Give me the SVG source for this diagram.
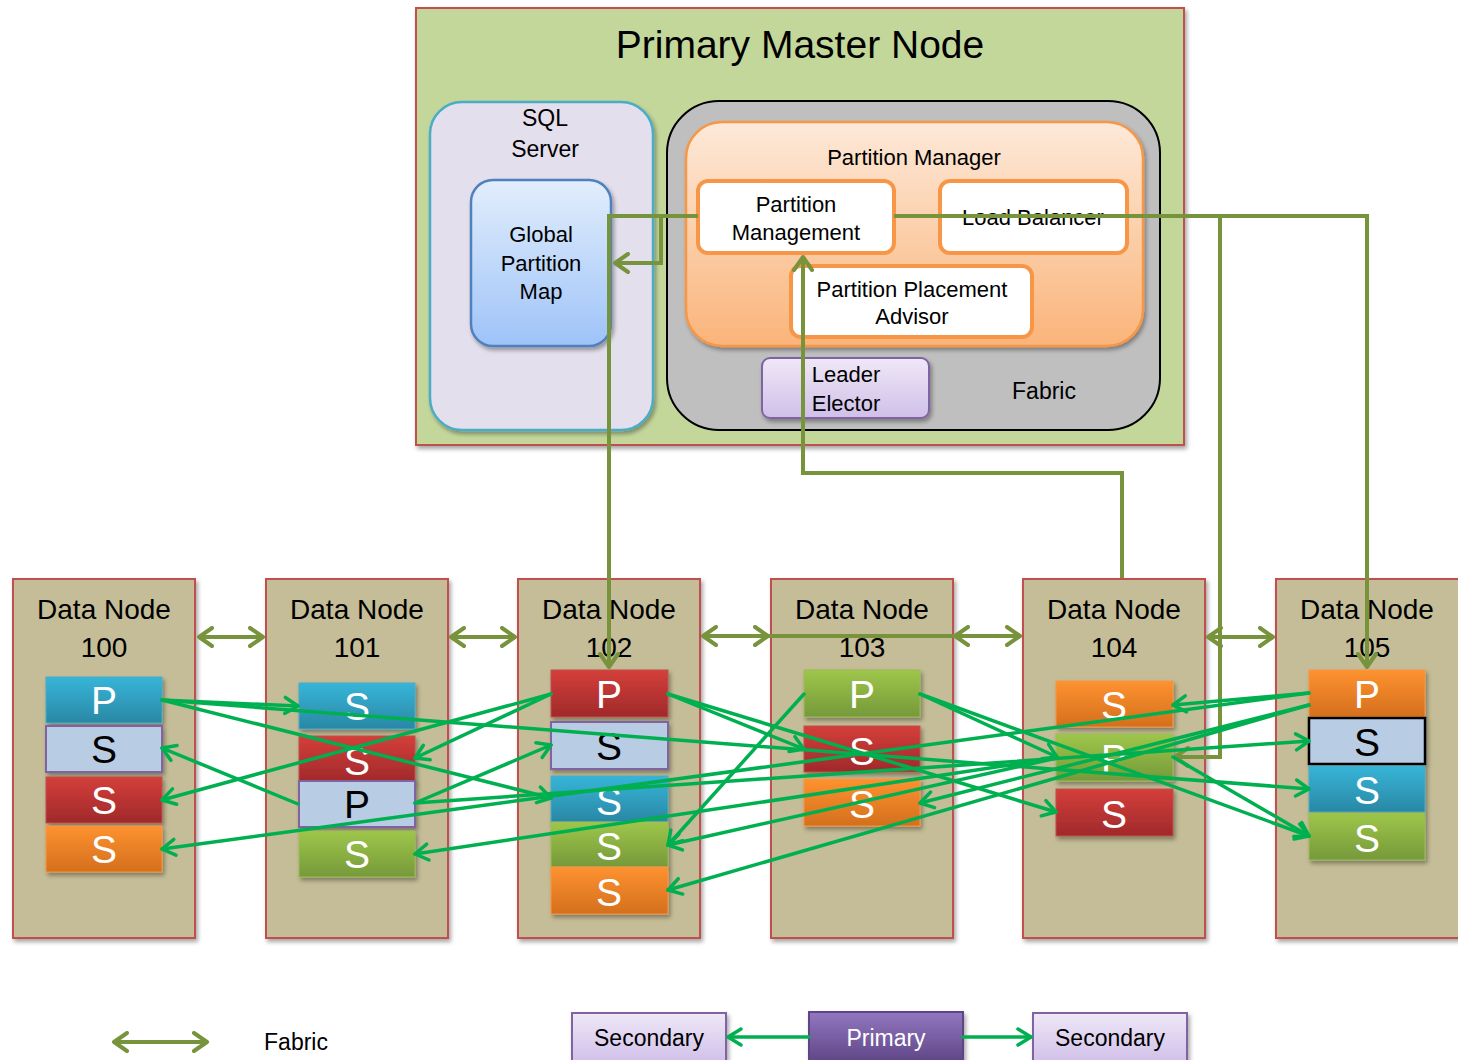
<svg xmlns="http://www.w3.org/2000/svg" width="1458" height="1060" viewBox="0 0 1458 1060">
<style>
text{font-family:"Liberation Sans",Arial,sans-serif;fill:#000;text-anchor:middle}
.dn{fill:#c4bd97;stroke:#c0504d;stroke-width:2}
.dt{font-size:28px}
.bl{font-size:39px;fill:#fff}
.bk{font-size:39px;fill:#000}
.g{fill:none;stroke:#00b050;stroke-width:3.5;stroke-linecap:round;marker-end:url(#ga)}
.o{fill:none;stroke:#77933c;stroke-width:4;marker-end:url(#oa)}
.od{fill:none;stroke:#77933c;stroke-width:4;marker-start:url(#oa);marker-end:url(#oa)}
.pm{fill:#fff;stroke:#f79646;stroke-width:4}
.t22{font-size:22px}
</style>
<defs>
<filter id="sh" x="-10%" y="-10%" width="130%" height="130%"><feDropShadow dx="2" dy="3" stdDeviation="2" flood-color="#000" flood-opacity="0.35"/></filter>
<linearGradient id="gBlue" x1="0" y1="0" x2="0" y2="1"><stop offset="0" stop-color="#37b5d8"/><stop offset="1" stop-color="#2a87a5"/></linearGradient>
<linearGradient id="gRed" x1="0" y1="0" x2="0" y2="1"><stop offset="0" stop-color="#d43f3a"/><stop offset="1" stop-color="#a0292b"/></linearGradient>
<linearGradient id="gOrg" x1="0" y1="0" x2="0" y2="1"><stop offset="0" stop-color="#fd9230"/><stop offset="1" stop-color="#d46f1d"/></linearGradient>
<linearGradient id="gGrn" x1="0" y1="0" x2="0" y2="1"><stop offset="0" stop-color="#9ec64a"/><stop offset="1" stop-color="#76993a"/></linearGradient>
<linearGradient id="gGpm" x1="0" y1="0" x2="0" y2="1"><stop offset="0" stop-color="#e2eefc"/><stop offset="1" stop-color="#9ec3f8"/></linearGradient>
<linearGradient id="gPm" x1="0" y1="0" x2="0" y2="1"><stop offset="0" stop-color="#fde9d9"/><stop offset="1" stop-color="#fab47a"/></linearGradient>
<linearGradient id="gLav" x1="0" y1="0" x2="0" y2="1"><stop offset="0" stop-color="#efe8f7"/><stop offset="1" stop-color="#d0bfe9"/></linearGradient>
<linearGradient id="gPur" x1="0" y1="0" x2="0" y2="1"><stop offset="0" stop-color="#9277c0"/><stop offset="1" stop-color="#5e4585"/></linearGradient>
<marker id="ga" viewBox="-16 -11 19 22" refX="0" refY="0" markerWidth="19" markerHeight="22" markerUnits="userSpaceOnUse" orient="auto-start-reverse"><path d="M-13,-8 L0,0 L-13,8" fill="none" stroke="#00b050" stroke-width="3.5" stroke-linecap="round" stroke-linejoin="round"/></marker>
<marker id="oa" viewBox="-16 -11 19 22" refX="0" refY="0" markerWidth="19" markerHeight="22" markerUnits="userSpaceOnUse" orient="auto-start-reverse"><path d="M-13,-9 L0,0 L-13,9" fill="none" stroke="#77933c" stroke-width="4" stroke-linecap="round" stroke-linejoin="round"/></marker>
</defs>

<g id="master">
<rect x="416" y="8" width="768" height="437" fill="#c4d79b" stroke="#c0504d" stroke-width="2" filter="url(#sh)"/>
<text x="800" y="58" style="font-size:39px">Primary Master Node</text>
</g>
<g id="sqlserver">
<rect x="430" y="102" width="223" height="328" rx="32" fill="#e4dfec" stroke="#4bacc6" stroke-width="2.5" filter="url(#sh)"/>
<text x="545" y="126" style="font-size:23px">SQL</text>
<text x="545" y="157" style="font-size:23px">Server</text>
</g>
<g id="gpm">
<rect x="471" y="180" width="140" height="166" rx="22" fill="url(#gGpm)" stroke="#4f81bd" stroke-width="2.5" filter="url(#sh)"/>
<text x="541" y="242" class="t22">Global</text>
<text x="541" y="271" class="t22">Partition</text>
<text x="541" y="299" class="t22">Map</text>
</g>
<g id="fabric">
<rect x="667" y="101" width="493" height="329" rx="52" fill="#bfbfbf" stroke="#000" stroke-width="2"/>
<text x="1044" y="399" style="font-size:23px">Fabric</text>
</g>
<g id="partition-manager">
<rect x="686" y="122" width="457" height="224" rx="36" fill="url(#gPm)" stroke="#f79646" stroke-width="2.5" filter="url(#sh)"/>
<text x="914" y="165" style="font-size:22px">Partition Manager</text>
</g>
<g id="partition-management">
<rect x="698" y="181" width="196" height="72" rx="10" class="pm"/>
<text x="796" y="212" class="t22">Partition</text>
<text x="796" y="240" class="t22">Management</text>
</g>
<g id="load-balancer">
<rect x="940" y="181" width="187" height="72" rx="10" class="pm"/>
<text x="1033" y="225" class="t22">Load Balancer</text>
</g>
<g id="placement-advisor">
<rect x="791" y="266" width="241" height="71" rx="10" class="pm"/>
<text x="912" y="297" class="t22">Partition Placement</text>
<text x="912" y="324" class="t22">Advisor</text>
</g>
<g id="leader-elector">
<rect x="762" y="358" width="167" height="60" rx="8" fill="url(#gLav)" stroke="#8064a2" stroke-width="2" filter="url(#sh)"/>
<text x="846" y="382" class="t22">Leader</text>
<text x="846" y="411" class="t22">Elector</text>
</g>

<g id="dn100">
<rect x="13" y="579" width="182" height="359" class="dn" filter="url(#sh)"/>
<text x="104" y="619" class="dt">Data Node</text><text x="104" y="657" class="dt">100</text>
<rect x="46" y="677" width="116" height="46" fill="url(#gBlue)" stroke="#4bacc6" filter="url(#sh)"/><text x="104" y="714" class="bl">P</text>
<rect x="46" y="726" width="116" height="46" fill="#b8cce4" stroke="#8064a2" stroke-width="2" filter="url(#sh)"/><text x="104" y="763" class="bk">S</text>
<rect x="46" y="777" width="116" height="46" fill="url(#gRed)" stroke="#c0504d" filter="url(#sh)"/><text x="104" y="814" class="bl">S</text>
<rect x="46" y="826" width="116" height="46" fill="url(#gOrg)" stroke="#f79646" filter="url(#sh)"/><text x="104" y="863" class="bl">S</text>
</g>
<g id="dn101">
<rect x="266" y="579" width="182" height="359" class="dn" filter="url(#sh)"/>
<text x="357" y="619" class="dt">Data Node</text><text x="357" y="657" class="dt">101</text>
<rect x="299" y="683" width="116" height="46" fill="url(#gBlue)" stroke="#4bacc6" filter="url(#sh)"/><text x="357" y="720" class="bl">S</text>
<rect x="299" y="736" width="116" height="46" fill="url(#gRed)" stroke="#c0504d" filter="url(#sh)"/><text x="357" y="775" class="bl">S</text>
<rect x="299" y="781" width="116" height="46" fill="#b8cce4" stroke="#8064a2" stroke-width="2" filter="url(#sh)"/><text x="357" y="818" class="bk">P</text>
<rect x="299" y="831" width="116" height="46" fill="url(#gGrn)" stroke="#9bbb59" filter="url(#sh)"/><text x="357" y="868" class="bl">S</text>
</g>
<g id="dn102">
<rect x="518" y="579" width="182" height="359" class="dn" filter="url(#sh)"/>
<text x="609" y="619" class="dt">Data Node</text><text x="609" y="657" class="dt">102</text>
<rect x="551" y="670" width="117" height="47" fill="url(#gRed)" stroke="#c0504d" filter="url(#sh)"/><text x="609" y="708" class="bl">P</text>
<rect x="551" y="722" width="117" height="47" fill="#b8cce4" stroke="#8064a2" stroke-width="2" filter="url(#sh)"/><text x="609" y="760" class="bk">S</text>
<rect x="551" y="776" width="117" height="46" fill="url(#gBlue)" stroke="#4bacc6" filter="url(#sh)"/><text x="609" y="815" class="bl">S</text>
<rect x="551" y="822" width="117" height="45" fill="url(#gGrn)" stroke="#9bbb59" filter="url(#sh)"/><text x="609" y="860" class="bl">S</text>
<rect x="551" y="867" width="117" height="47" fill="url(#gOrg)" stroke="#f79646" filter="url(#sh)"/><text x="609" y="906" class="bl">S</text>
</g>
<g id="dn103">
<rect x="771" y="579" width="182" height="359" class="dn" filter="url(#sh)"/>
<text x="862" y="619" class="dt">Data Node</text><text x="862" y="657" class="dt">103</text>
<rect x="804" y="670" width="116" height="47" fill="url(#gGrn)" stroke="#9bbb59" filter="url(#sh)"/><text x="862" y="708" class="bl">P</text>
<rect x="804" y="726" width="116" height="46" fill="url(#gRed)" stroke="#c0504d" filter="url(#sh)"/><text x="862" y="765" class="bl">S</text>
<rect x="804" y="779" width="116" height="47" fill="url(#gOrg)" stroke="#f79646" filter="url(#sh)"/><text x="862" y="818" class="bl">S</text>
</g>
<g id="dn104">
<rect x="1023" y="579" width="182" height="359" class="dn" filter="url(#sh)"/>
<text x="1114" y="619" class="dt">Data Node</text><text x="1114" y="657" class="dt">104</text>
<rect x="1056" y="681" width="117" height="46" fill="url(#gOrg)" stroke="#f79646" filter="url(#sh)"/><text x="1114" y="719" class="bl">S</text>
<rect x="1056" y="734" width="117" height="47" fill="url(#gGrn)" stroke="#9bbb59" filter="url(#sh)"/><text x="1114" y="772" class="bl">P</text>
<rect x="1056" y="789" width="117" height="47" fill="url(#gRed)" stroke="#c0504d" filter="url(#sh)"/><text x="1114" y="828" class="bl">S</text>
</g>
<g id="dn105">
<rect x="1276" y="579" width="190" height="359" class="dn" filter="url(#sh)"/>
<text x="1367" y="619" class="dt">Data Node</text><text x="1367" y="657" class="dt">105</text>
<rect x="1309" y="670" width="116" height="47" fill="url(#gOrg)" stroke="#f79646" filter="url(#sh)"/><text x="1367" y="708" class="bl">P</text>
<rect x="1309" y="718" width="116" height="46" fill="#b8cce4" stroke="#000" stroke-width="2.5" filter="url(#sh)"/><text x="1367" y="756" class="bk">S</text>
<rect x="1309" y="766" width="116" height="46" fill="url(#gBlue)" stroke="#4bacc6" filter="url(#sh)"/><text x="1367" y="804" class="bl">S</text>
<rect x="1309" y="813" width="116" height="47" fill="url(#gGrn)" stroke="#9bbb59" filter="url(#sh)"/><text x="1367" y="852" class="bl">S</text>
</g>

<g id="legend-fabric">
<text x="296" y="1050" style="font-size:23px">Fabric</text>
</g>
<g id="legend-secondary-left">
<rect x="572" y="1013" width="154" height="50" fill="url(#gLav)" stroke="#8064a2" stroke-width="2" filter="url(#sh)"/>
<text x="649" y="1046" style="font-size:23px">Secondary</text>
</g>
<g id="legend-primary">
<rect x="809" y="1012" width="154" height="51" fill="url(#gPur)" stroke="#5e4585" stroke-width="2" filter="url(#sh)"/>
<text x="886" y="1046" style="font-size:23px;fill:#fff">Primary</text>
</g>
<g id="legend-secondary-right">
<rect x="1033" y="1013" width="154" height="50" fill="url(#gLav)" stroke="#8064a2" stroke-width="2" filter="url(#sh)"/>
<text x="1110" y="1046" style="font-size:23px">Secondary</text>
</g>

<g id="connectors">
<path class="o" d="M698,216 H661 V263 H615"/>
<path class="o" d="M661,216 H609 V667"/>
<path class="o" d="M894,216 H1367 V667"/>
<path class="o" d="M1220,216 V757 H1175"/>
<path class="o" d="M1122,578 V473 H803 V257"/>
<path class="od" d="M199,637 H263"/>
<path class="od" d="M451,637 H515"/>
<path class="od" d="M703,636 H768"/>
<path class="od" d="M955,636 H1020"/>
<path d="M768,636 H955" fill="none" stroke="#77933c" stroke-width="4"/>
<path class="od" d="M1208,637 H1273"/>
<path class="od" d="M114,1042 H207"/>
<path class="g" d="M162,700 L298,706"/>
<path class="g" d="M162,700 L551,798"/>
<path class="g" d="M162,700 L1309,789"/>
<path class="g" d="M551,694 L415,758"/>
<path class="g" d="M551,694 L162,800"/>
<path class="g" d="M668,694 L804,749"/>
<path class="g" d="M668,694 L1056,812"/>
<path class="g" d="M298,804 L162,748"/>
<path class="g" d="M415,803 L551,745"/>
<path class="g" d="M415,803 L1309,741"/>
<path class="g" d="M804,694 L668,845"/>
<path class="g" d="M920,694 L1057,757"/>
<path class="g" d="M920,694 L1309,836"/>
<path class="g" d="M1057,758 L415,854"/>
<path class="g" d="M1057,758 L668,845"/>
<path class="g" d="M1173,757 L1309,836"/>
<path class="g" d="M1309,693 L1173,705"/>
<path class="g" d="M1309,693 L162,849"/>
<path class="g" d="M1309,705 L668,890"/>
<path class="g" d="M1309,705 L920,803"/>
<path class="g" d="M809,1037 H728"/>
<path class="g" d="M963,1037 H1031"/>
</g>
</svg>
